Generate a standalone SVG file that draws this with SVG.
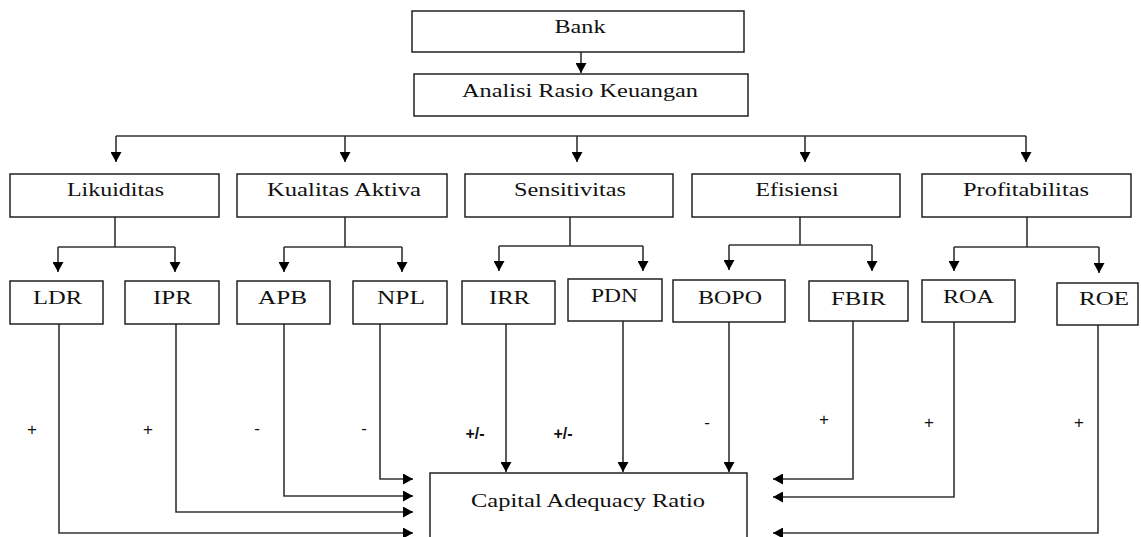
<svg xmlns="http://www.w3.org/2000/svg" width="1141" height="537" viewBox="0 0 1141 537">
<style>
.box{fill:#fff;stroke:#222;stroke-width:1.5}
.t{font-family:"Liberation Serif","Times New Roman",serif;font-size:18px;fill:#111;text-anchor:middle}
.c{fill:none;stroke:#333;stroke-width:1.6}
.s{font-family:"Liberation Sans",Arial,sans-serif;font-size:17px;fill:#111;text-anchor:middle}
.sb{font-family:"Liberation Sans",Arial,sans-serif;font-size:16px;font-weight:bold;fill:#111;text-anchor:middle}
</style>
<defs>
<marker id="ah" markerUnits="userSpaceOnUse" markerWidth="10" markerHeight="11" refX="10" refY="5.5" orient="auto">
<path d="M0,0 L10,5.5 L0,11 z" fill="#000"/>
</marker>
</defs>
<rect width="1141" height="537" fill="#fff"/>
<g id="connectors">
<path class="c" d="M581,52 V73" marker-end="url(#ah)"/>
<path class="c" d="M116,136 H1026"/>
<path class="c" d="M116,136 V162" marker-end="url(#ah)"/>
<path class="c" d="M345,136 V162" marker-end="url(#ah)"/>
<path class="c" d="M577,136 V162" marker-end="url(#ah)"/>
<path class="c" d="M805,136 V162" marker-end="url(#ah)"/>
<path class="c" d="M1026,136 V162" marker-end="url(#ah)"/>
<path class="c" d="M115,217 V247 M58,247 H175"/>
<path class="c" d="M58,247 V272" marker-end="url(#ah)"/>
<path class="c" d="M175,247 V272" marker-end="url(#ah)"/>
<path class="c" d="M345,217 V247 M284,247 H402"/>
<path class="c" d="M284,247 V272" marker-end="url(#ah)"/>
<path class="c" d="M402,247 V272" marker-end="url(#ah)"/>
<path class="c" d="M570,217 V246 M499,246 H643"/>
<path class="c" d="M499,246 V271" marker-end="url(#ah)"/>
<path class="c" d="M643,246 V271" marker-end="url(#ah)"/>
<path class="c" d="M800,217 V245 M729,245 H872"/>
<path class="c" d="M729,245 V270" marker-end="url(#ah)"/>
<path class="c" d="M872,245 V271" marker-end="url(#ah)"/>
<path class="c" d="M1027,217 V247 M954,247 H1099"/>
<path class="c" d="M954,247 V271" marker-end="url(#ah)"/>
<path class="c" d="M1099,247 V273" marker-end="url(#ah)"/>
<path class="c" d="M59,324 V533 H413" marker-end="url(#ah)"/>
<path class="c" d="M176,324 V512 H413" marker-end="url(#ah)"/>
<path class="c" d="M284,324 V496 H413" marker-end="url(#ah)"/>
<path class="c" d="M380,324 V479 H413" marker-end="url(#ah)"/>
<path class="c" d="M506,324 V472" marker-end="url(#ah)"/>
<path class="c" d="M623,321 V472" marker-end="url(#ah)"/>
<path class="c" d="M729,322 V472" marker-end="url(#ah)"/>
<path class="c" d="M853,321 V479 H773" marker-end="url(#ah)"/>
<path class="c" d="M954,322 V497 H773" marker-end="url(#ah)"/>
<path class="c" d="M1098,325 V533 H773" marker-end="url(#ah)"/>
</g>
<g id="labels">
<text class="s" x="32" y="435">+</text>
<text class="s" x="148" y="435">+</text>
<text class="s" x="257" y="434">-</text>
<text class="s" x="364" y="434">-</text>
<text class="sb" x="475" y="439">+/-</text>
<text class="sb" x="563" y="439">+/-</text>
<text class="s" x="707" y="428">-</text>
<text class="s" x="824" y="425">+</text>
<text class="s" x="929" y="428">+</text>
<text class="s" x="1079" y="428">+</text>
</g>
<g id="bank"><rect class="box" x="412" y="11" width="332" height="41"/><text class="t" x="580" y="33" textLength="51" lengthAdjust="spacingAndGlyphs">Bank</text></g>
<g id="analisi"><rect class="box" x="414" y="74" width="334" height="42"/><text class="t" x="580" y="97" textLength="236" lengthAdjust="spacingAndGlyphs">Analisi Rasio Keuangan</text></g>
<g id="likuiditas"><rect class="box" x="10" y="174" width="209" height="43"/><text class="t" x="115.5" y="196" textLength="97" lengthAdjust="spacingAndGlyphs">Likuiditas</text></g>
<g id="kualitas"><rect class="box" x="237" y="174" width="210" height="43"/><text class="t" x="344" y="196" textLength="154" lengthAdjust="spacingAndGlyphs">Kualitas Aktiva</text></g>
<g id="sensitivitas"><rect class="box" x="465" y="174" width="208" height="43"/><text class="t" x="570" y="196" textLength="112" lengthAdjust="spacingAndGlyphs">Sensitivitas</text></g>
<g id="efisiensi"><rect class="box" x="692" y="174" width="208" height="43"/><text class="t" x="797" y="196" textLength="83" lengthAdjust="spacingAndGlyphs">Efisiensi</text></g>
<g id="profitabilitas"><rect class="box" x="922" y="174" width="209" height="43"/><text class="t" x="1026" y="196" textLength="126" lengthAdjust="spacingAndGlyphs">Profitabilitas</text></g>
<g id="ldr"><rect class="box" x="10" y="281" width="93" height="43"/><text class="t" x="57.5" y="304" textLength="49" lengthAdjust="spacingAndGlyphs">LDR</text></g>
<g id="ipr"><rect class="box" x="125" y="281" width="94" height="43"/><text class="t" x="172.5" y="304" textLength="39" lengthAdjust="spacingAndGlyphs">IPR</text></g>
<g id="apb"><rect class="box" x="237" y="281" width="93" height="43"/><text class="t" x="282.5" y="304" textLength="49" lengthAdjust="spacingAndGlyphs">APB</text></g>
<g id="npl"><rect class="box" x="353" y="281" width="94" height="43"/><text class="t" x="401" y="304" textLength="48" lengthAdjust="spacingAndGlyphs">NPL</text></g>
<g id="irr"><rect class="box" x="462" y="281" width="93" height="43"/><text class="t" x="509.5" y="304" textLength="41" lengthAdjust="spacingAndGlyphs">IRR</text></g>
<g id="pdn"><rect class="box" x="568" y="279" width="94" height="42"/><text class="t" x="614.5" y="302" textLength="47" lengthAdjust="spacingAndGlyphs">PDN</text></g>
<g id="bopo"><rect class="box" x="673" y="280" width="112" height="42"/><text class="t" x="730" y="304" textLength="64" lengthAdjust="spacingAndGlyphs">BOPO</text></g>
<g id="fbir"><rect class="box" x="809" y="281" width="99" height="40"/><text class="t" x="858.5" y="305" textLength="55" lengthAdjust="spacingAndGlyphs">FBIR</text></g>
<g id="roa"><rect class="box" x="922" y="280" width="93" height="42"/><text class="t" x="968.5" y="303" textLength="51" lengthAdjust="spacingAndGlyphs">ROA</text></g>
<g id="roe"><rect class="box" x="1057" y="283" width="81" height="42"/><text class="t" x="1104" y="305" textLength="50" lengthAdjust="spacingAndGlyphs">ROE</text></g>
<g id="car"><rect class="box" x="430" y="473" width="317" height="80"/><text class="t" x="588" y="507" textLength="234" lengthAdjust="spacingAndGlyphs">Capital Adequacy Ratio</text></g>
</svg>
